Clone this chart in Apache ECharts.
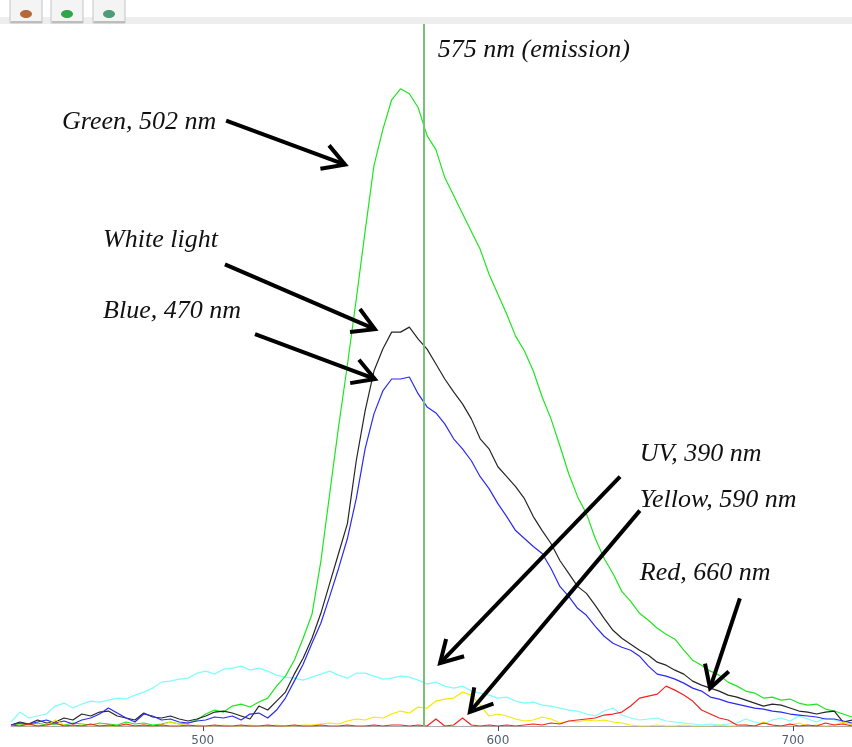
<!DOCTYPE html>
<html>
<head>
<meta charset="utf-8">
<script src="https://cdn.jsdelivr.net/npm/echarts@6/dist/echarts.min.js"></script>
<style>
  html, body { margin: 0; padding: 0; background: #ffffff; }
  #chart { width: 852px; height: 747px; }
</style>
</head>
<body>
<div id="chart"></div>
<script>
// Wavelength grid of the spectrometer readout (nm)
const wavelength = [
  435,438,441,444,447,450,453,456,459,462,
  465,468,471,474,477,480,483,486,489,492,
  495,498,501,504,507,510,513,516,519,522,
  525,528,531,534,537,540,543,546,549,552,
  555,558,561,564,567,570,573,576,579,582,
  585,588,591,594,597,600,603,606,609,612,
  615,618,621,624,627,630,633,636,639,642,
  645,648,651,654,657,660,663,666,669,672,
  675,678,681,684,687,690,693,696,699,702,
  705,708,711,714,717,720
];

// Emission intensity (counts) under each excitation source
const greenExc = [
  5,10,5,15,5,10,5,15,10,5,
  15,10,5,20,10,15,5,10,20,10,
  15,30,60,80,70,100,110,95,120,140,
  200,250,330,440,560,825,1165,1500,1810,2140,
  2480,2810,2990,3140,3195,3170,3100,2960,2890,2750,
  2660,2570,2480,2390,2265,2165,2065,1955,1880,1780,
  1650,1540,1405,1265,1150,1065,940,840,765,675,
  625,565,530,490,460,435,380,330,305,275,
  255,220,200,175,165,140,145,130,135,115,
  105,110,85,75,60,45
];
const whiteExc = [
  5,20,10,30,15,20,40,30,60,50,
  70,75,50,40,30,65,45,40,50,35,
  25,35,50,70,75,65,50,35,100,80,
  125,170,260,340,440,565,715,865,1015,1330,
  1580,1780,1890,1975,1975,2000,1940,1890,1815,1740,
  1675,1615,1540,1440,1390,1300,1250,1200,1140,1050,
  980,915,830,765,700,665,605,540,480,440,
  410,380,355,320,305,280,260,225,205,190,
  175,155,145,130,115,100,110,105,90,75,
  70,60,70,75,20,30
];
const blueExc = [
  5,15,10,20,30,15,25,10,30,40,
  60,90,65,40,20,60,50,30,35,20,
  15,25,30,45,40,50,30,60,65,40,
  80,140,225,310,415,515,650,790,940,1140,
  1390,1565,1680,1740,1740,1750,1665,1600,1570,1515,
  1440,1390,1330,1250,1190,1115,1050,980,940,900,
  865,790,700,650,590,555,500,450,415,395,
  380,350,300,260,250,235,215,190,175,145,
  135,120,110,100,90,85,75,70,60,55,
  50,45,35,35,25,15
];
const uvExc = [
  20,70,40,50,60,100,115,90,110,125,
  120,130,140,135,155,170,190,220,225,235,
  240,265,275,260,285,290,300,280,290,275,
  255,245,240,230,245,260,275,255,240,265,
  265,250,235,240,250,245,230,210,220,200,
  190,200,175,165,155,140,145,125,115,120,
  105,100,90,80,75,60,50,75,90,55,
  40,30,35,40,25,20,15,10,5,10,
  5,10,15,35,20,10,30,40,25,50,
  35,20,40,30,15,10
];
const yellowExc = [
  0,5,0,5,0,30,5,0,5,0,
  5,0,0,5,0,5,0,5,20,10,
  0,5,0,0,5,0,0,5,0,0,
  5,0,0,5,5,10,15,10,25,35,
  30,45,40,60,75,65,95,90,125,135,
  140,170,155,105,50,60,50,35,25,30,
  45,35,15,25,20,30,25,30,20,15,
  5,0,0,5,0,0,5,0,0,0,
  5,0,0,5,0,20,5,0,5,15,
  0,5,0,5,20,5
];
const redExc = [
  5,0,10,0,5,15,0,5,0,10,
  0,5,0,10,0,5,0,5,0,0,
  5,0,0,5,0,0,5,0,0,5,
  0,0,5,0,0,5,0,0,5,0,
  0,5,0,5,5,0,5,0,35,0,
  5,40,5,0,5,0,5,0,5,10,
  5,15,10,25,30,35,40,55,60,70,
  100,140,150,160,200,180,155,125,80,60,
  40,30,5,5,0,15,5,0,10,0,
  5,0,15,5,10,0
];

const tickValues = [500, 600, 700];
const emissionLine = 575;

// Annotation texts
const labelTexts = [
  'Green, 502 nm', 'White light', 'Blue, 470 nm',
  'UV, 390 nm', 'Yellow, 590 nm', 'Red, 660 nm'
];
const emissionText = '575 nm (emission)';

// Where each annotation sits, in data units [nm, counts]
const labelLayout = [
  { at: [452.3, 3030], from: [507.9, 3035], to: [548.2, 2815] },
  { at: [466.2, 2435], from: [507.5, 2315], to: [558.3, 1990] },
  { at: [466.2, 2080], from: [517.7, 1965], to: [558.3, 1740] },
  { at: [648.1, 1365], from: [641.4, 1250], to: [580.4, 315] },
  { at: [648.1, 1130], from: [648.1, 1080], to: [590.5, 70] },
  { at: [648.1, 765],  from: [682.0, 640],  to: [671.9, 190] }
];
const emissionTextAt = [579.6, 3390];

const pairs = vals => wavelength.map((w, i) => [w, vals[i]]);

const lineSeries = (name, vals, color, extra) => Object.assign({
  name: name,
  type: 'line',
  data: pairs(vals),
  showSymbol: false,
  symbol: 'none',
  sampling: null,
  smooth: false,
  lineStyle: { color: color, width: 1.2 },
  itemStyle: { color: color },
  z: 2,
  emphasis: { disabled: true }
}, extra || {});

const chart = echarts.init(document.getElementById('chart'), null, { renderer: 'canvas' });

chart.setOption({
  animation: false,
  backgroundColor: '#ffffff',
  grid: { left: 11, right: 0, top: 24, bottom: 19, containLabel: false },
  xAxis: {
    type: 'value',
    min: 435,
    max: 720,
    axisLine: { show: true, lineStyle: { color: '#a9a9a9', width: 1 } },
    axisTick: { show: true, customValues: tickValues, length: 5, lineStyle: { color: '#4a4a4a', width: 1 } },
    axisLabel: {
      show: true, customValues: tickValues, margin: 9,
      color: '#4f5f70', fontFamily: 'DejaVu Sans', fontSize: 12
    },
    splitLine: { show: false }
  },
  yAxis: {
    type: 'value',
    min: 0,
    max: 3520,
    show: false,
    splitLine: { show: false }
  },
  series: [
    lineSeries('UV, 390 nm', uvExc, '#7ffcfc'),
    lineSeries('Green, 502 nm', greenExc, '#1ee61e'),
    lineSeries('White light', whiteExc, '#262626'),
    lineSeries('Blue, 470 nm', blueExc, '#2a2af5'),
    lineSeries('Yellow, 590 nm', yellowExc, '#f2ea00'),
    lineSeries('Red, 660 nm', redExc, '#f52222', {
      z: 3,
      markLine: {
        silent: true,
        symbol: 'none',
        label: { show: false },
        lineStyle: { color: '#78c078', width: 2, type: 'solid' },
        data: [{ xAxis: emissionLine }]
      }
    })
  ]
});

// Annotation layer: italic captions with thick black arrows
const toPx = p => chart.convertToPixel({ gridIndex: 0 }, p);
const font = 'italic 26px "Liberation Serif", "DejaVu Serif", serif';
const arrowStyle = { stroke: '#000000', lineWidth: 4, lineCap: 'butt', lineJoin: 'miter', fill: null };

function arrowHead(tip, tail, len, ang) {
  const dx = tip[0] - tail[0], dy = tip[1] - tail[1];
  const d = Math.hypot(dx, dy);
  const ux = dx / d, uy = dy / d;
  const rot = a => [
    tip[0] - len * (ux * Math.cos(a) - uy * Math.sin(a)),
    tip[1] - len * (ux * Math.sin(a) + uy * Math.cos(a))
  ];
  return [rot(ang), tip, rot(-ang)];
}

const graphics = [];

// window chrome strip along the top
graphics.push({ type: 'rect', shape: { x: 0, y: 17, width: 852, height: 7 }, style: { fill: '#eeeeee' }, silent: true });
[[10, '#b5693a'], [51, '#2fa64a'], [93, '#4f9c7a']].forEach(([bx, ic]) => {
  graphics.push({ type: 'rect', shape: { x: bx, y: -3, width: 32, height: 26 }, style: { fill: '#f4f4f4', stroke: '#c4c4c4', lineWidth: 1 }, silent: true });
  graphics.push({ type: 'rect', shape: { x: bx + 1, y: 21, width: 31, height: 2 }, style: { fill: '#bdbdbd' }, silent: true });
  graphics.push({ type: 'ellipse', shape: { cx: bx + 16, cy: 14, rx: 6, ry: 4 }, style: { fill: ic }, silent: true });
});

labelTexts.forEach((t, i) => {
  const L = labelLayout[i];
  const at = toPx(L.at), a = toPx(L.from), b = toPx(L.to);
  graphics.push({
    type: 'text', silent: true, z: 10,
    style: { text: t, x: at[0], y: at[1], font: font, fill: '#111111', align: 'left', verticalAlign: 'middle' }
  });
  graphics.push({ type: 'line', silent: true, z: 10, shape: { x1: a[0], y1: a[1], x2: b[0], y2: b[1] }, style: arrowStyle });
  graphics.push({ type: 'polyline', silent: true, z: 10, shape: { points: arrowHead(b, a, 25, Math.PI / 6) }, style: arrowStyle });
});

const ePos = toPx(emissionTextAt);
graphics.push({
  type: 'text', silent: true, z: 10,
  style: { text: emissionText, x: ePos[0], y: ePos[1], font: font, fill: '#111111', align: 'left', verticalAlign: 'middle' }
});

chart.setOption({ graphic: graphics });
</script>
</body>
</html>
